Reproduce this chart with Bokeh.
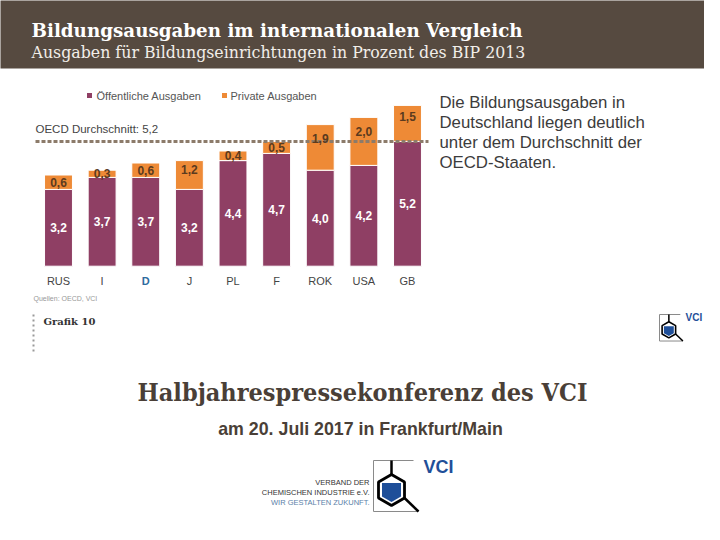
from bokeh.plotting import figure
from bokeh.models import Range1d, Label, ColumnDataSource
from bokeh.core.properties import value
from bokeh.embed import file_html
from bokeh.resources import INLINE

# ---- data ----
categories = ["RUS", "I", "D", "J", "PL", "F", "ROK", "USA", "GB"]
public = [3.2, 3.7, 3.7, 3.2, 4.4, 4.7, 4.0, 4.2, 5.2]
private = [0.6, 0.3, 0.6, 1.2, 0.4, 0.5, 1.9, 2.0, 1.5]
oecd_avg = 5.2
highlight = "D"

title = "Bildungsausgaben im internationalen Vergleich"
subtitle = "Ausgaben für Bildungseinrichtungen in Prozent des BIP 2013"
legend_labels = ["Öffentliche Ausgaben", "Private Ausgaben"]
note_lines = ["Die Bildungsausgaben in", "Deutschland liegen deutlich",
              "unter dem Durchschnitt der", "OECD-Staaten."]

PUB_C = "#8f3f64"
PRIV_C = "#ee8a36"
HEAD_C = "#564a40"
BROWN = "#4a3f37"
VCI_BLUE = "#1f4f99"

# canvas pixel <-> data helpers
X0, PX, BASE, PY = 58.0, 43.625, 265.7, 24.0
def fx(X):
    return (X - X0) / PX
def fy(Y):
    return (BASE - Y) / PY

p = figure(width=704, height=524, x_range=Range1d(fx(0), fx(704)),
           y_range=Range1d(fy(524), fy(0)), output_backend="svg",
           toolbar_location=None, min_border=0, x_axis_type=None, y_axis_type=None)
p.grid.visible = False
p.outline_line_color = None
p.background_fill_color = "white"
p.border_fill_color = "white"

def lab(X, Y, t, size, color, font="Liberation Sans", style="normal", align="left", baseline="middle"):
    p.add_layout(Label(x=fx(X), y=fy(Y), text=t, text_font_size=f"{size}px",
                       text_color=color, text_font=font, text_font_style=style,
                       text_align=align, text_baseline=baseline))

# header band
p.quad(left=[fx(-5)], right=[fx(710)], top=[fy(-5)], bottom=[fy(68)], color=HEAD_C, line_color=None)
lab(31, 30, title, 18.3, "white", font="DejaVu Serif", style="bold")
lab(31, 52, subtitle, 15.8, "#f2eee9", font="DejaVu Serif")

# legend
p.scatter([fx(89), fx(224)], [fy(95), fy(95)], marker="square", size=5,
          color=[PUB_C, PRIV_C], line_color=None)
lab(96, 95, legend_labels[0], 11, "#555555")
lab(230, 95, legend_labels[1], 11, "#555555")

# bars
xs = list(range(len(categories)))
src = ColumnDataSource(dict(
    x=xs, pub=public, priv=private,
    pub_mid=[v / 2 for v in public],
    priv_mid=[a + (b * 0.7 if b > 1 else b / 2) for a, b in zip(public, private)],
    pub_lab=[f"{v:.1f}".replace(".", ",") for v in public],
    priv_lab=[f"{v:.1f}".replace(".", ",") for v in private],
    cat=categories,
    cat_col=["#2e6b9e" if c == highlight else "#444444" for c in categories],
    cat_style=["bold" if c == highlight else "normal" for c in categories],
))
p.vbar_stack(["pub", "priv"], x="x", width=0.64, color=[PUB_C, PRIV_C],
             line_color="white", line_width=1, source=src)

p.text(x="x", y="pub_mid", text="pub_lab", source=src, text_color="white",
       text_font=value("Liberation Sans"), text_font_style="bold", text_font_size="12px",
       text_align="center", text_baseline="middle")

# OECD average line
p.line([fx(35), fx(428)], [oecd_avg, oecd_avg], line_color="#8c7b6a", line_width=3, line_dash="4 2")
lab(35, 128, "OECD Durchschnitt: " + f"{oecd_avg:.1f}".replace(".", ","), 11.5, "#444444")

p.text(x="x", y="priv_mid", text="priv_lab", source=src, text_color="#5b3a1e",
       text_font=value("Liberation Sans"), text_font_style="bold", text_font_size="12px",
       text_align="center", text_baseline="middle")
p.text(x="x", y=fy(280), text="cat", source=src, text_color="cat_col",
       text_font=value("Liberation Sans"), text_font_style="cat_style", text_font_size="11px",
       text_align="center", text_baseline="middle")

# note text
for i, t in enumerate(note_lines):
    lab(439, 101.5 + i * 20.2, t, 16.8, "#3c3c3c")

# footer
lab(33, 298, "Quellen: OECD, VCI", 7, "#999999")
p.line([fx(33), fx(33)], [fy(314), fy(352)], line_color="#999999", line_width=2, line_dash="2 3")
lab(43, 321, "Grafik 10", 10, "#333333", font="DejaVu Serif", style="bold")
lab(362, 392, "Halbjahrespressekonferenz des VCI", 25, BROWN,
    font="DejaVu Serif Condensed, DejaVu Serif", style="bold", align="center")
lab(360, 428, "am 20. Juli 2017 in Frankfurt/Main", 17.8, BROWN,
    font="Liberation Sans Narrow, Liberation Sans", style="bold", align="center")

def logo(LX, LY, s, vci_size, texts=False):
    P = lambda pts: ([fx(LX + s * u) for u, v in pts], [fy(LY + s * v) for u, v in pts])
    for seg in ([(0, 0), (40, 0)], [(0, 0), (0, 51)], [(0, 51), (45, 51)]):
        a, b = P(seg)
        p.line(a, b, line_color="#8a8a8a", line_width=1)
    a, b = P([(18, 0), (18, 14)])
    p.line(a, b, line_color="black", line_width=2 * s + 0.5)
    a, b = P([(31, 37.5), (45, 51)])
    p.line(a, b, line_color="black", line_width=2 * s + 0.5)
    a, b = P([(18, 14), (31, 21.5), (31, 37.5), (18, 45), (5, 37.5), (5, 21.5)])
    p.patch(a, b, fill_color="white", line_color="black", line_width=2.5 * s + 0.3)
    a, b = P([(8.5, 22.5), (27.5, 22.5), (27.5, 36), (18, 41.5), (8.5, 36)])
    p.patch(a, b, fill_color=VCI_BLUE, line_color=None)
    lab(LX + s * 50, LY + s * 6.5, "VCI", vci_size, VCI_BLUE,
        font="Liberation Sans Narrow, Liberation Sans", style="bold")
    if texts:
        lab(LX - 4, LY + 22, "VERBAND DER", 7.5, "#333333",
            font="Liberation Sans Narrow, Liberation Sans", align="right")
        lab(LX - 4, LY + 32, "CHEMISCHEN INDUSTRIE e.V.", 7.5, "#333333",
            font="Liberation Sans Narrow, Liberation Sans", align="right")
        lab(LX - 4, LY + 42, "WIR GESTALTEN ZUKUNFT.", 7.5, "#5a7fa8",
            font="Liberation Sans Narrow, Liberation Sans", align="right")

logo(373, 460, 1.0, 18, texts=True)
logo(659, 314, 0.52, 10)

open("out.html", "w").write(file_html(p, INLINE))
